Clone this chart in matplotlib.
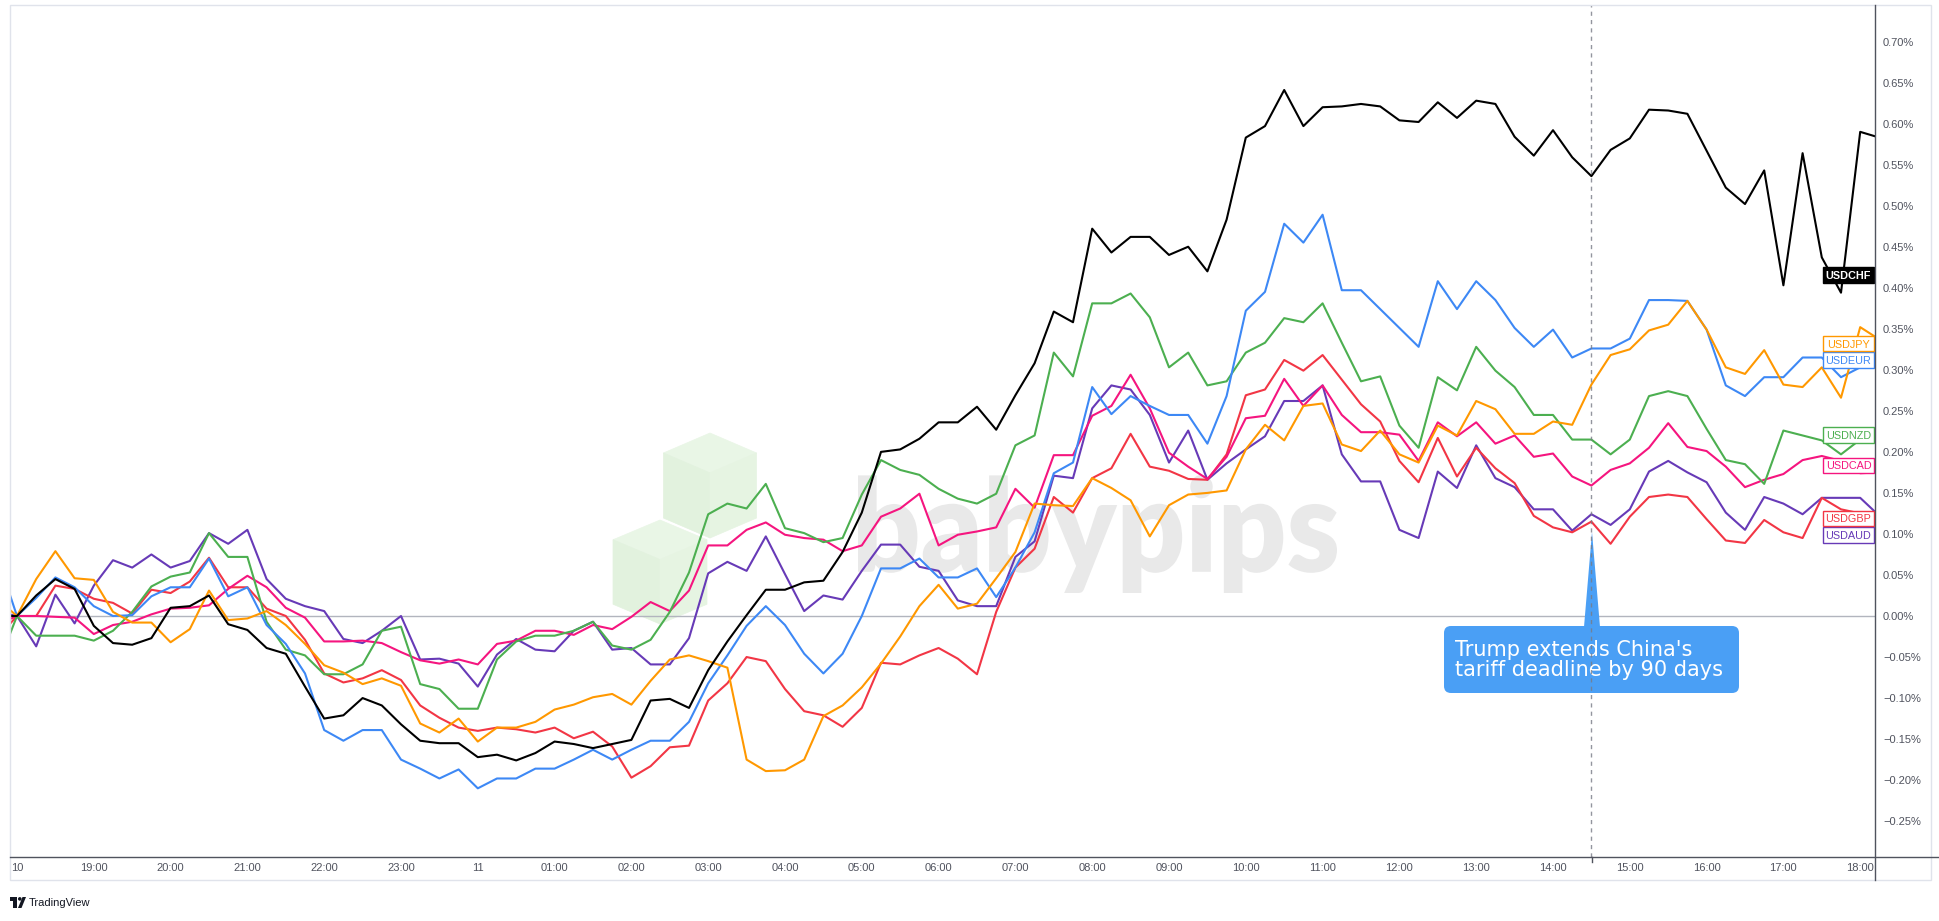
import numpy as np
import pandas as pd
import matplotlib
matplotlib.use("Agg")
import matplotlib.pyplot as plt
from matplotlib.patches import Polygon, Rectangle, FancyBboxPatch, PathPatch, Circle
from matplotlib.lines import Line2D
from matplotlib.textpath import TextPath
from matplotlib.font_manager import FontProperties
from matplotlib.transforms import Affine2D

plt.rcParams['font.family'] = ['Liberation Sans', 'DejaVu Sans']

# 15-minute closes, % change vs. 18:00 on the 10th (first value is the 17:45 bar)
times = pd.date_range("2025-08-10 17:45", periods=99, freq="15min")

usdchf = [0.000,
          0.000, 0.025, 0.045, 0.033, -0.012, -0.033, -0.035, -0.027, 0.010, 0.012, 0.025, -0.010,
          -0.017, -0.039, -0.046, -0.086, -0.125, -0.121, -0.100, -0.109, -0.132, -0.152, -0.155, -0.155, -0.172,
          -0.169, -0.176, -0.167, -0.153, -0.156, -0.161, -0.156, -0.151, -0.103, -0.101, -0.112, -0.066,
          -0.031, 0.001, 0.032, 0.032, 0.041, 0.043, 0.078, 0.126, 0.200, 0.203, 0.216, 0.236,
          0.236, 0.255, 0.227, 0.269, 0.308, 0.371, 0.358, 0.472, 0.443, 0.462, 0.462, 0.440,
          0.450, 0.420, 0.483, 0.583, 0.597, 0.641, 0.597, 0.620, 0.621, 0.624, 0.621, 0.604, 0.602,
          0.626, 0.607, 0.628, 0.624, 0.584, 0.561, 0.592, 0.559, 0.536, 0.568, 0.582, 0.617,
          0.616, 0.612, 0.567, 0.522, 0.502, 0.543, 0.403, 0.564, 0.437, 0.394, 0.590, 0.583]

usdjpy = [0.020,
          0.000, 0.045, 0.079, 0.046, 0.044, 0.005, -0.008, -0.008, -0.032, -0.016, 0.031, -0.005,
          -0.003, 0.006, -0.011, -0.034, -0.060, -0.069, -0.083, -0.076, -0.085, -0.131, -0.142, -0.125, -0.153,
          -0.136, -0.136, -0.129, -0.114, -0.108, -0.099, -0.095, -0.108, -0.079, -0.053, -0.048, -0.055,
          -0.063, -0.175, -0.189, -0.188, -0.175, -0.122, -0.109, -0.087, -0.058, -0.025, 0.012, 0.038,
          0.009, 0.015, 0.046, 0.078, 0.137, 0.135, 0.134, 0.168, 0.156, 0.141, 0.097, 0.135,
          0.148, 0.150, 0.153, 0.203, 0.233, 0.214, 0.256, 0.259, 0.209, 0.201, 0.226, 0.197, 0.187,
          0.232, 0.220, 0.262, 0.252, 0.222, 0.222, 0.237, 0.233, 0.282, 0.318, 0.325, 0.348,
          0.355, 0.384, 0.349, 0.303, 0.295, 0.324, 0.282, 0.279, 0.303, 0.266, 0.352, 0.337]

usdeur = [0.070,
          0.000, 0.022, 0.047, 0.035, 0.012, 0.000, 0.001, 0.024, 0.035, 0.035, 0.070, 0.024,
          0.035, -0.011, -0.034, -0.070, -0.139, -0.152, -0.139, -0.139, -0.175, -0.186, -0.198, -0.187, -0.210,
          -0.198, -0.198, -0.186, -0.186, -0.175, -0.163, -0.175, -0.163, -0.152, -0.152, -0.129, -0.082,
          -0.048, -0.012, 0.012, -0.011, -0.046, -0.070, -0.046, 0.000, 0.058, 0.058, 0.070, 0.047,
          0.047, 0.058, 0.023, 0.059, 0.102, 0.174, 0.187, 0.279, 0.246, 0.268, 0.256, 0.245,
          0.245, 0.210, 0.268, 0.372, 0.395, 0.478, 0.455, 0.489, 0.397, 0.397, 0.374, 0.351, 0.328,
          0.408, 0.374, 0.408, 0.385, 0.351, 0.328, 0.349, 0.315, 0.326, 0.326, 0.338, 0.385,
          0.385, 0.384, 0.349, 0.281, 0.268, 0.291, 0.291, 0.315, 0.315, 0.291, 0.303, 0.305]

usdnzd = [-0.060,
          0.000, -0.024, -0.024, -0.024, -0.030, -0.018, 0.005, 0.036, 0.048, 0.053, 0.101, 0.072,
          0.072, -0.007, -0.041, -0.048, -0.071, -0.071, -0.059, -0.018, -0.013, -0.083, -0.089, -0.113, -0.113,
          -0.053, -0.031, -0.024, -0.024, -0.018, -0.007, -0.036, -0.041, -0.029, 0.005, 0.053, 0.124,
          0.137, 0.131, 0.161, 0.107, 0.101, 0.090, 0.095, 0.148, 0.190, 0.178, 0.172, 0.155,
          0.143, 0.137, 0.149, 0.208, 0.220, 0.321, 0.292, 0.381, 0.381, 0.393, 0.364, 0.303,
          0.321, 0.281, 0.286, 0.321, 0.333, 0.363, 0.358, 0.381, 0.333, 0.286, 0.292, 0.232, 0.205,
          0.291, 0.275, 0.328, 0.299, 0.279, 0.245, 0.245, 0.215, 0.215, 0.197, 0.215, 0.268,
          0.274, 0.268, 0.228, 0.190, 0.185, 0.161, 0.226, 0.220, 0.214, 0.197, 0.215, 0.215]

usdcad = [-0.010,
          0.000, 0.000, -0.001, -0.002, -0.022, -0.011, -0.007, 0.002, 0.009, 0.010, 0.013, 0.033,
          0.049, 0.035, 0.010, -0.002, -0.031, -0.031, -0.030, -0.033, -0.044, -0.054, -0.058, -0.053, -0.059,
          -0.034, -0.030, -0.018, -0.018, -0.023, -0.011, -0.016, -0.001, 0.017, 0.006, 0.031, 0.086,
          0.086, 0.105, 0.114, 0.099, 0.095, 0.093, 0.079, 0.086, 0.121, 0.131, 0.149, 0.086,
          0.099, 0.103, 0.108, 0.155, 0.132, 0.196, 0.196, 0.244, 0.256, 0.294, 0.253, 0.199,
          0.182, 0.167, 0.194, 0.241, 0.244, 0.289, 0.256, 0.281, 0.245, 0.224, 0.224, 0.221, 0.189,
          0.236, 0.219, 0.236, 0.210, 0.220, 0.194, 0.198, 0.170, 0.159, 0.178, 0.186, 0.205,
          0.235, 0.206, 0.201, 0.182, 0.157, 0.166, 0.173, 0.190, 0.195, 0.189, 0.174, 0.175]

usdgbp = [-0.026,
          0.000, 0.000, 0.037, 0.033, 0.021, 0.016, 0.003, 0.032, 0.028, 0.042, 0.071, 0.035,
          0.035, 0.009, 0.000, -0.029, -0.070, -0.081, -0.076, -0.066, -0.078, -0.109, -0.124, -0.136, -0.140,
          -0.136, -0.138, -0.142, -0.136, -0.149, -0.141, -0.159, -0.197, -0.183, -0.160, -0.158, -0.103,
          -0.082, -0.050, -0.055, -0.089, -0.116, -0.121, -0.135, -0.112, -0.057, -0.059, -0.048, -0.039,
          -0.052, -0.071, 0.005, 0.059, 0.082, 0.145, 0.126, 0.168, 0.180, 0.222, 0.182, 0.177,
          0.167, 0.166, 0.197, 0.269, 0.276, 0.312, 0.299, 0.318, 0.288, 0.258, 0.237, 0.189, 0.163,
          0.217, 0.170, 0.205, 0.180, 0.162, 0.122, 0.108, 0.102, 0.115, 0.088, 0.121, 0.145,
          0.148, 0.145, 0.118, 0.092, 0.089, 0.117, 0.102, 0.095, 0.144, 0.130, 0.125, 0.125]

usdaud = [0.005,
          0.000, -0.037, 0.026, -0.009, 0.037, 0.068, 0.059, 0.075, 0.059, 0.067, 0.101, 0.088,
          0.105, 0.045, 0.021, 0.012, 0.006, -0.028, -0.033, -0.018, 0.000, -0.053, -0.052, -0.058, -0.086,
          -0.047, -0.028, -0.041, -0.043, -0.018, -0.007, -0.041, -0.039, -0.059, -0.059, -0.027, 0.052,
          0.066, 0.055, 0.097, 0.051, 0.006, 0.025, 0.020, 0.055, 0.087, 0.087, 0.060, 0.055,
          0.019, 0.012, 0.012, 0.072, 0.091, 0.171, 0.168, 0.253, 0.281, 0.276, 0.245, 0.187,
          0.226, 0.166, 0.186, 0.203, 0.219, 0.262, 0.262, 0.281, 0.197, 0.164, 0.164, 0.105, 0.095,
          0.176, 0.156, 0.208, 0.168, 0.157, 0.130, 0.130, 0.104, 0.124, 0.111, 0.130, 0.176,
          0.189, 0.175, 0.163, 0.126, 0.105, 0.145, 0.137, 0.124, 0.144, 0.144, 0.144, 0.122]

hour_labels = ["10", "19:00", "20:00", "21:00", "22:00", "23:00", "11",
               "01:00", "02:00", "03:00", "04:00", "05:00", "06:00", "07:00", "08:00",
               "09:00", "10:00", "11:00", "12:00", "13:00", "14:00", "15:00", "16:00",
               "17:00", "18:00"]
y_ticks = np.round(np.arange(-5, 15) * 0.05, 2)

event_time = pd.Timestamp("2025-08-11 14:30")
event_text = "Trump extends China's\ntariff deadline by 90 days"

# name, values, colour, where TradingView parked the tag on the price scale (%)
series = [
    ("USDAUD", usdaud, "#673ab7", 0.099),
    ("USDGBP", usdgbp, "#f23645", 0.119),
    ("USDCAD", usdcad, "#f5157f", 0.1835),
    ("USDNZD", usdnzd, "#4caf50", 0.2203),
    ("USDEUR", usdeur, "#3d88f5", 0.3118),
    ("USDJPY", usdjpy, "#ff9800", 0.332),
    ("USDCHF", usdchf, "#000000", 0.4155),
]

# ---- layout (pixels of the 1940x921 output) ----
W, H = 1940, 921
PLOT_L, PLOT_R, PLOT_T, PLOT_B = 10, 1875, 5, 857
X0_PX, STEP_PX = 17, 19.2          # 18:00 bar and bar spacing
ZERO_PX, PCT_PX = 616, 820.6       # 0% line and px per 1%


def dx(px):
    return (px - X0_PX) / STEP_PX


def dy(py):
    return (ZERO_PX - py) / PCT_PX


step = pd.Timedelta("15min")
x = np.array((times - times[1]) / step)
event_x = (event_time - times[1]) / step
tick_x = np.arange(0, 97, 4)

fig = plt.figure(figsize=(W / 100, H / 100), dpi=100)
fig.patch.set_facecolor("white")
ax = fig.add_axes([PLOT_L / W, 1 - PLOT_B / H, (PLOT_R - PLOT_L) / W, (PLOT_B - PLOT_T) / H])
pxt = Affine2D().scale(1 / W, -1 / H).translate(0, 1) + fig.transFigure

# watermark: two green cubes + grey wordmark
def cube(cx, top, w, h, shades):
    hw = w / 2
    q = h * 0.19
    pts = {"t": (cx, top), "ur": (cx + hw, top + q), "lr": (cx + hw, top + h - q),
           "b": (cx, top + h), "ll": (cx - hw, top + h - q), "ul": (cx - hw, top + q),
           "c": (cx, top + 2 * q)}
    faces = [["t", "ur", "c", "ul"], ["ul", "c", "b", "ll"], ["c", "ur", "lr", "b"]]
    for f, col in zip(faces, shades):
        ax.add_patch(Polygon([pts[k] for k in f], closed=True, transform=pxt, fc=col,
                             ec=col, lw=0.5, zorder=0.5, clip_on=False))


cube(660, 520, 94, 104, ["#e9f6e6", "#e2f2de", "#e6f4e2"])
cube(710, 433, 93, 105, ["#e9f6e6", "#e2f2de", "#e6f4e2"])

tp = TextPath((0, 0), "babypips", size=100, prop=FontProperties(family="Lato", weight="heavy"))
ext = tp.get_extents()
sx = (1337 - 858) / ext.width
sy = (593 - 475) / ext.height
wm_tr = Affine2D().translate(-ext.x0, -ext.y0).scale(sx / STEP_PX, sy / PCT_PX) \
    .translate(dx(858), dy(593)) + ax.transData
ax.add_patch(PathPatch(tp, transform=wm_tr, fc="#e9e9e9", ec="none", zorder=0.6))

ax.axhline(0, color="#b2b5be", lw=1, zorder=1)

for name, vals, col, _ in series:
    ax.plot(x, vals, color=col, lw=1.5, zorder=3)

# event callout
ax.add_patch(Polygon([(1584, 627), (1592, 532), (1600, 627)], closed=True, transform=pxt,
                     fc="#4a9ff5", ec="none", zorder=7, clip_on=False))
ax.add_patch(FancyBboxPatch((1444, 626), 295, 67, boxstyle="round,pad=0,rounding_size=7",
                            transform=pxt, fc="#4a9ff5", ec="none", zorder=7, clip_on=False))
ax.text(1455, 660, event_text, transform=pxt, ha="left", va="center", color="white",
        fontsize=15, family=["DejaVu Sans"], linespacing=1.0, zorder=8)
ax.axvline(event_x, color="#787b86", lw=1, ls=(0, (3, 3)), alpha=0.8, zorder=9)
fig.add_artist(Line2D([1592, 1592], [857, 862], transform=pxt, color="#50535e", lw=1))

# tags on the right edge
for name, vals, col, tag in series:
    py = ZERO_PX - tag * PCT_PX
    dark = name == "USDCHF"
    ax.add_patch(Rectangle((1823, py - 7.8), 51, 15.6, transform=pxt,
                           fc=col if dark else "white", ec=col, lw=1, zorder=10, clip_on=False))
    ax.text(1848.5, py, name, transform=pxt, ha="center", va="center_baseline",
            fontsize=7.8, color="white" if dark else col,
            fontweight="bold" if dark else "normal", zorder=11)

ax.set_xlim(dx(PLOT_L), dx(PLOT_R))
ax.set_ylim(dy(PLOT_B), dy(PLOT_T))
ax.set_xticks(tick_x)
ax.set_xticklabels(hour_labels)
ax.yaxis.tick_right()
ax.set_yticks(y_ticks)
ax.set_yticklabels([f"{v:.2f}%".replace("-", "\u2212") for v in y_ticks])
ax.tick_params(axis="x", length=0, pad=4.5, labelsize=8, labelcolor="#50535e")
ax.tick_params(axis="y", length=0, pad=5.8, labelsize=8, labelcolor="#50535e")
for s in ax.spines.values():
    s.set_visible(False)

# frame, scales and footer
fig.add_artist(Rectangle((10, 5), 1921, 875, transform=pxt, fill=False, ec="#e0e3eb", lw=1))
fig.add_artist(Line2D([PLOT_L, W], [PLOT_B, PLOT_B], transform=pxt, color="#50535e", lw=1))
fig.add_artist(Line2D([PLOT_R, PLOT_R], [PLOT_T, 880], transform=pxt, color="#50535e", lw=1))

logo = "#131722"
fig.add_artist(Polygon([(10, 897), (17, 897), (17, 908), (13.5, 908), (13.5, 900.5), (10, 900.5)],
                       closed=True, transform=pxt, fc=logo, ec="none"))
fig.add_artist(Circle((19.8, 898.9), 1.8, transform=pxt, fc=logo, ec="none"))
fig.add_artist(Polygon([(22.5, 897), (26, 897), (21.5, 908), (18, 908)],
                       closed=True, transform=pxt, fc=logo, ec="none"))
fig.text(29 / W, 1 - 902.5 / H, "TradingView", ha="left", va="center", fontsize=8, color=logo)

fig.savefig("out.png", dpi=100, facecolor="white")
